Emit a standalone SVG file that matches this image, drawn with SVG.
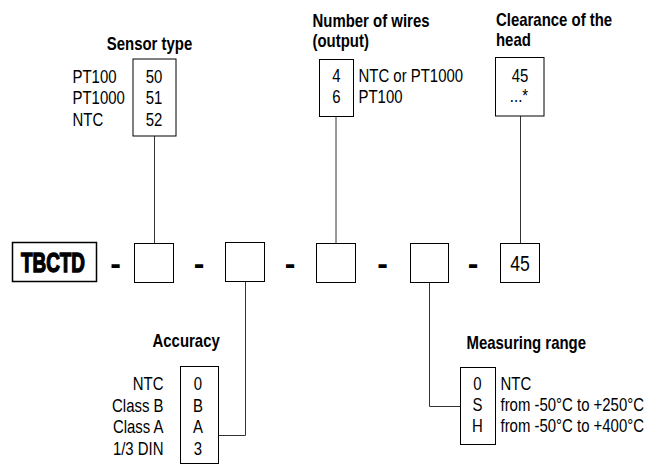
<svg xmlns="http://www.w3.org/2000/svg" width="666" height="464" viewBox="0 0 666 464">
<style>
.t{font-family:"Liberation Sans",Arial,sans-serif;font-size:18px;fill:#000}
.b{font-weight:bold}
.m{text-anchor:middle}
.e{text-anchor:end}
.box{fill:#fff;stroke:#000;stroke-width:1}
.con{fill:none;stroke:#333;stroke-width:1}
.dash{font-family:"Liberation Sans",Arial,sans-serif;font-size:32px;font-weight:bold;text-anchor:middle;fill:#000}
</style>
<rect width="666" height="464" fill="#fff"/>
<g id="connectors">
<path class="con" d="M154.5 136V243.5"/>
<path class="con" d="M245.5 281.5V435.5H218.5"/>
<path class="con" d="M336 116.5V243.5"/>
<path class="con" d="M429.5 282.5V406.5H460.5"/>
<path class="con" d="M520.5 116V243.5"/>
</g>
<g id="sensor-type">
<text class="t b m" transform="translate(149.5,49.5) scale(0.83,1)">Sensor type</text>
<rect class="box" x="133" y="59" width="43" height="77"/>
<text class="t" transform="translate(72.5,82.5) scale(0.83,1)">PT100</text>
<text class="t" transform="translate(72.5,104) scale(0.83,1)">PT1000</text>
<text class="t" transform="translate(72.5,125.5) scale(0.83,1)">NTC</text>
<text class="t m" transform="translate(154,82.5) scale(0.83,1)">50</text>
<text class="t m" transform="translate(154,104) scale(0.83,1)">51</text>
<text class="t m" transform="translate(154,125.5) scale(0.83,1)">52</text>
</g>
<g id="number-of-wires">
<text class="t b" transform="translate(312.5,27) scale(0.83,1)">Number of wires</text>
<text class="t b" transform="translate(312.5,47) scale(0.83,1)">(output)</text>
<rect class="box" x="319.5" y="59.5" width="34" height="57"/>
<text class="t m" transform="translate(336.5,82) scale(0.83,1)">4</text>
<text class="t m" transform="translate(336.5,102.5) scale(0.83,1)">6</text>
<text class="t" transform="translate(358.5,82) scale(0.83,1)">NTC or PT1000</text>
<text class="t" transform="translate(358.5,102.5) scale(0.83,1)">PT100</text>
</g>
<g id="clearance">
<text class="t b" transform="translate(496,26) scale(0.83,1)">Clearance of the</text>
<text class="t b" transform="translate(496,46) scale(0.83,1)">head</text>
<rect class="box" x="495.5" y="57.5" width="48.5" height="58.5"/>
<text class="t m" transform="translate(520,82) scale(0.83,1)">45</text>
<text class="t m" transform="translate(519,102) scale(0.83,1)">...*</text>
</g>
<g id="code">
<rect x="12.5" y="242.5" width="84" height="39" fill="#fff" stroke="#000" stroke-width="1.5"/>
<text transform="translate(53,272) scale(0.7,1)" style="font-family:'Liberation Sans',Arial,sans-serif;font-size:27px;font-weight:bold;text-anchor:middle;fill:#000;stroke:#000;stroke-width:1.4">TBCTD</text>
</g>
<g id="separators">
<text class="dash" x="115.5" y="273.5">-</text>
<text class="dash" x="199" y="273.5">-</text>
<text class="dash" x="290" y="273.5">-</text>
<text class="dash" x="382.5" y="273.5">-</text>
<text class="dash" x="473" y="273.5">-</text>
</g>
<g id="slot-sensor"><rect class="box" x="134.5" y="243.5" width="39" height="39"/></g>
<g id="slot-accuracy"><rect class="box" x="225.5" y="242.5" width="39" height="39"/></g>
<g id="slot-wires"><rect class="box" x="316.5" y="243.5" width="39" height="39"/></g>
<g id="slot-range"><rect class="box" x="410.5" y="243.5" width="38" height="39"/></g>
<g id="slot-clearance">
<rect class="box" x="500.5" y="243.5" width="39" height="39"/>
<text class="t m" transform="translate(520,270.5) scale(0.8,1)" style="font-size:22px">45</text>
</g>
<g id="accuracy">
<text class="t b" transform="translate(152.5,347) scale(0.83,1)">Accuracy</text>
<rect class="box" x="180.5" y="366.5" width="38" height="97"/>
<text class="t e" transform="translate(163.5,390) scale(0.83,1)">NTC</text>
<text class="t e" transform="translate(163.5,411.5) scale(0.83,1)">Class B</text>
<text class="t e" transform="translate(163.5,433) scale(0.83,1)">Class A</text>
<text class="t e" transform="translate(163.5,454.5) scale(0.83,1)">1/3 DIN</text>
<text class="t m" transform="translate(198,390) scale(0.83,1)">0</text>
<text class="t m" transform="translate(198,411.5) scale(0.83,1)">B</text>
<text class="t m" transform="translate(198,433) scale(0.83,1)">A</text>
<text class="t m" transform="translate(198,454.5) scale(0.83,1)">3</text>
</g>
<g id="measuring-range">
<text class="t b" transform="translate(466.5,348.5) scale(0.83,1)">Measuring range</text>
<rect class="box" x="460.5" y="367.5" width="35" height="77"/>
<text class="t m" transform="translate(477.5,390) scale(0.83,1)">0</text>
<text class="t m" transform="translate(477.5,411) scale(0.83,1)">S</text>
<text class="t m" transform="translate(477.5,432) scale(0.83,1)">H</text>
<text class="t" transform="translate(500.5,390) scale(0.83,1)">NTC</text>
<text class="t" transform="translate(500.5,411) scale(0.83,1)">from -50°C to +250°C</text>
<text class="t" transform="translate(500.5,432) scale(0.83,1)">from -50°C to +400°C</text>
</g>
</svg>
